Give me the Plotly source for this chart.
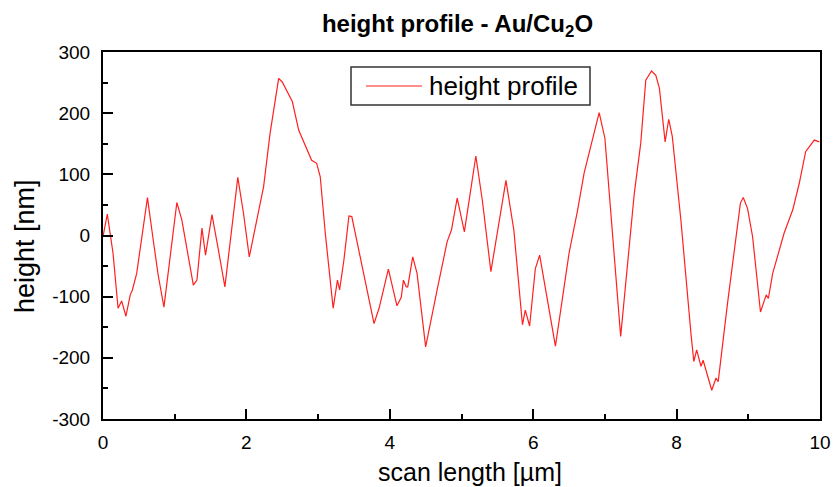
import plotly.graph_objects as go

# Height profile along the scan line (x in µm, height in nm)
scan_um = [
    0.00, 0.06, 0.14, 0.21, 0.26, 0.32, 0.38, 0.41, 0.47, 0.62, 0.70, 0.77, 0.85,
    1.03, 1.10, 1.26, 1.31, 1.38, 1.43, 1.52, 1.61, 1.70, 1.88, 1.96, 2.04, 2.15,
    2.24, 2.33, 2.45, 2.50, 2.56, 2.64, 2.73, 2.84, 2.91, 2.98, 3.03, 3.10, 3.21,
    3.27, 3.30, 3.36, 3.43, 3.47, 3.57, 3.63, 3.78, 3.85, 3.98, 4.10, 4.16, 4.19,
    4.23, 4.25, 4.32, 4.38, 4.50, 4.66, 4.80, 4.86, 4.94, 5.04, 5.20, 5.29, 5.41,
    5.62, 5.73, 5.85, 5.89, 5.95, 6.03, 6.09, 6.22, 6.31, 6.50, 6.62, 6.71, 6.82,
    6.92, 7.00, 7.13, 7.22, 7.41, 7.50, 7.57, 7.65, 7.71, 7.76, 7.84, 7.89, 7.94,
    8.06, 8.20, 8.24, 8.28, 8.34, 8.37, 8.43, 8.49, 8.55, 8.58, 8.71, 8.80, 8.89,
    8.93, 8.99, 9.06, 9.17, 9.25, 9.28, 9.34, 9.40, 9.50, 9.62, 9.71, 9.80, 9.92,
    9.99,
]
height_nm = [
    -2, 35, -29, -119, -107, -132, -97, -89, -62, 62, -7, -65, -117,
    54, 25, -81, -73, 12, -32, 34, -24, -84, 95, 36, -35, 31,
    80, 167, 257, 251, 238, 219, 172, 143, 123, 118, 96, 4, -119,
    -73, -89, -40, 32, 31, -24, -56, -144, -119, -55, -115, -101, -73,
    -84, -84, -35, -62, -182, -89, -10, 9, 61, 6, 130, 58, -59,
    90, 9, -146, -122, -148, -54, -32, -119, -181, -29, 42, 102, 156,
    201, 159, -29, -165, 69, 151, 254, 269, 262, 241, 153, 190, 162,
    25, -160, -206, -187, -214, -204, -228, -253, -233, -239, -111, -24, 53,
    62, 44, -2, -125, -97, -103, -62, -37, 4, 42, 85, 137, 156,
    153,
]

x_ticks = [0, 2, 4, 6, 8, 10]
y_ticks = [-300, -200, -100, 0, 100, 200, 300]
series_name = "height profile"
x_title = "scan length [µm]"
y_title = "height [nm]"
chart_title = "<b>height profile - Au/Cu<sub>2</sub>O</b>"

FONT = "Liberation Sans, Arial, sans-serif"
LINE_RED = "#ff2020"

W, H = 833, 487
L, R, T, B = 103, 13, 52, 68
pw, ph = W - L - R, H - T - B


def px_x(p):
    return (p - L) / pw


def px_y(p):
    return (H - B - p) / ph


fig = go.Figure()
fig.add_trace(go.Scatter(
    x=scan_um, y=height_nm, mode="lines", name=series_name,
    line=dict(color=LINE_RED, width=1.2), showlegend=False,
))

axis_common = dict(
    showline=True, linecolor="black", linewidth=2, mirror=True,
    ticks="inside", tickcolor="black", tickwidth=2, ticklen=10,
    showgrid=False, zeroline=False, automargin=False,
    tickfont=dict(family=FONT, size=19, color="black"),
)

fig.update_xaxes(
    range=[0, 10], tickvals=x_ticks, ticktext=[str(v) for v in x_ticks],
    minor=dict(dtick=1, ticks="inside", ticklen=5, tickwidth=2, tickcolor="black"),
    ticklabelstandoff=5,
    **axis_common,
)
fig.update_yaxes(
    range=[-300, 300], tickvals=y_ticks, ticktext=[str(v) for v in y_ticks],
    minor=dict(dtick=50, tick0=0, ticks="inside", ticklen=5, tickwidth=2, tickcolor="black"),
    ticklabelstandoff=7,
    **axis_common,
)

# Axis titles
fig.add_annotation(xref="paper", yref="paper", x=px_x(470), y=px_y(472),
                   text=x_title, showarrow=False, xanchor="center", yanchor="middle",
                   font=dict(family=FONT, size=25, color="black"))
fig.add_annotation(xref="paper", yref="paper", x=px_x(25), y=px_y(246),
                   text=y_title, showarrow=False, xanchor="center", yanchor="middle",
                   textangle=-90, font=dict(family=FONT, size=27, color="black"))

# Legend box
fig.add_shape(type="rect", xref="paper", yref="paper",
              x0=px_x(351), x1=px_x(590), y0=px_y(105), y1=px_y(67),
              line=dict(color="#333333", width=1.5), fillcolor="white")
fig.add_shape(type="line", xref="paper", yref="paper",
              x0=px_x(366), x1=px_x(422), y0=px_y(86), y1=px_y(86),
              line=dict(color=LINE_RED, width=1.2))
fig.add_annotation(xref="paper", yref="paper", x=px_x(427), y=px_y(86),
                   text=series_name, showarrow=False, xanchor="left", yanchor="middle",
                   font=dict(family=FONT, size=26, color="black"))

fig.update_layout(
    width=W, height=H,
    margin=dict(l=L, r=R, t=T, b=B),
    paper_bgcolor="white", plot_bgcolor="white",
    title=dict(text=chart_title,
               x=457.5 / W, xanchor="center", xref="container",
               y=1 - 24 / H, yanchor="middle",
               font=dict(family=FONT, size=24, color="black")),
)

fig.write_html("out.html")
